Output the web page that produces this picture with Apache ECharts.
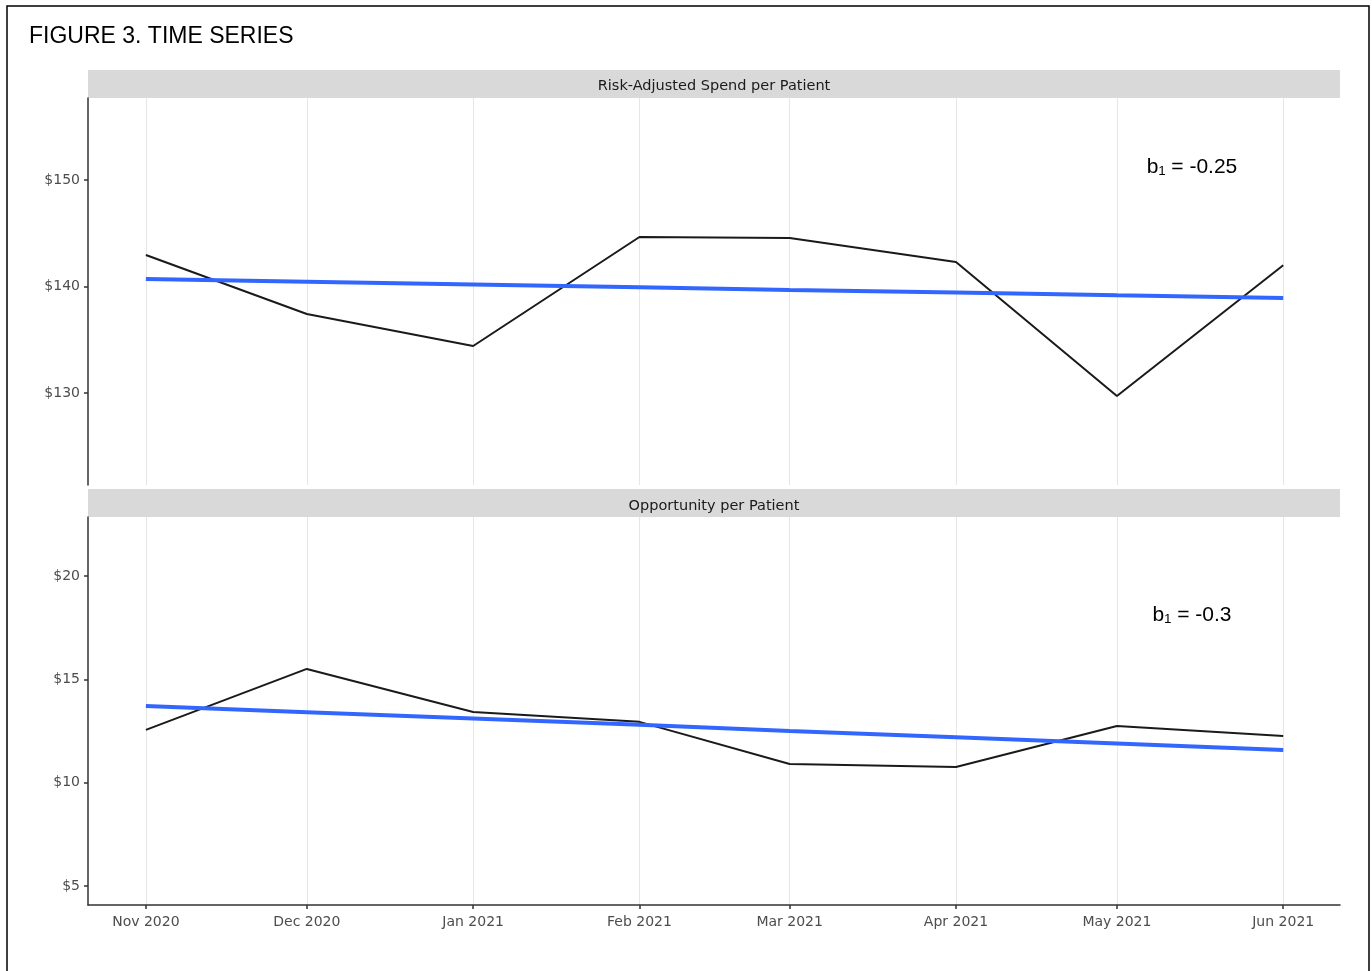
<!DOCTYPE html>
<html>
<head>
<meta charset="utf-8">
<title>Figure 3. Time Series</title>
<script src="https://cdn.jsdelivr.net/npm/echarts@6/dist/echarts.min.js"></script>
<style>
  html, body { margin: 0; padding: 0; background: #fff; }
  #chart { width: 1372px; height: 971px; }
</style>
</head>
<body>
<div id="chart"></div>
<script>
  // data
  var monthLabels = ['Nov 2020', 'Dec 2020', 'Jan 2021', 'Feb 2021', 'Mar 2021', 'Apr 2021', 'May 2021', 'Jun 2021']
  var monthDates = [[2020, 10], [2020, 11], [2021, 0], [2021, 1], [2021, 2], [2021, 3], [2021, 4], [2021, 5]]
  var spendActual = [142.96, 137.42, 134.41, 144.65, 144.55, 142.30, 129.72, 142.00]
  var spendTrend = [140.70, 140.45, 140.19, 139.94, 139.68, 139.43, 139.17, 138.92]
  var oppActual = [12.55, 15.50, 13.42, 12.94, 10.90, 10.76, 12.74, 12.26]
  var oppTrend = [13.71, 13.41, 13.10, 12.80, 12.50, 12.19, 11.89, 11.58]
  var spendTicks = [130, 140, 150]
  var oppTicks = [5, 10, 15, 20]
  var spendSlope = 'b₁ = -0.25'
  var oppSlope = 'b₁ = -0.3'

  // dates as UTC timestamps on a numeric axis, so months keep their real spacing
  var times = monthDates.map(function (d) { return Date.UTC(d[0], d[1], 1) })
  var xMin = Date.UTC(2020, 9, 21, 5)
  var xMax = Date.UTC(2021, 5, 11, 14)

  function pairs (vals) {
    return vals.map(function (v, i) { return [times[i], v] })
  }
  function monthFmt (v) {
    var i = times.indexOf(v)
    return i >= 0 ? monthLabels[i] : ''
  }

  var axisFont = 'DejaVu Sans'
  var axisColor = '#333'
  var labelColor = '#4d4d4d'
  var gridColor = '#e6e6e6'

  function xAxisFor (gridIndex, showLabels) {
    return {
      type: 'value',
      gridIndex: gridIndex,
      min: xMin,
      max: xMax,
      axisLine: { show: showLabels, onZero: false, lineStyle: { color: axisColor, width: 1.5 } },
      axisTick: { show: showLabels, customValues: times, length: 4, lineStyle: { color: axisColor, width: 1.5 } },
      axisLabel: {
        show: showLabels,
        customValues: times,
        formatter: monthFmt,
        color: labelColor,
        fontFamily: axisFont,
        fontSize: 14,
        margin: 10
      },
      splitLine: { show: true, lineStyle: { color: gridColor, width: 1 } }
    }
  }

  function yAxisFor (gridIndex, min, max, ticks) {
    return {
      type: 'value',
      gridIndex: gridIndex,
      min: min,
      max: max,
      axisLine: { show: true, lineStyle: { color: axisColor, width: 1.5 } },
      axisTick: { show: true, customValues: ticks, length: 4, lineStyle: { color: axisColor, width: 1.5 } },
      axisLabel: {
        customValues: ticks,
        formatter: '${value}',
        color: labelColor,
        fontFamily: axisFont,
        fontSize: 14,
        margin: 8
      },
      splitLine: { show: false }
    }
  }

  function lineSeries (idx, vals, color, width, z) {
    return {
      type: 'line',
      xAxisIndex: idx,
      yAxisIndex: idx,
      data: pairs(vals),
      showSymbol: false,
      symbol: 'none',
      silent: true,
      z: z,
      lineStyle: { color: color, width: width }
    }
  }

  var stripStyle = { fill: '#d9d9d9' }
  var stripText = { fill: '#1a1a1a', font: '14.5px "DejaVu Sans"', textAlign: 'center', textVerticalAlign: 'middle' }
  var noteText = { fill: '#000', font: '21px "Liberation Sans"', textAlign: 'center', textVerticalAlign: 'middle' }

  var option = {
    animation: false,
    backgroundColor: '#fff',
    grid: [
      { left: 88, right: 32, top: 98, height: 387 },
      { left: 88, right: 32, top: 517, height: 388 }
    ],
    xAxis: [xAxisFor(0, false), xAxisFor(1, true)],
    yAxis: [
      yAxisFor(0, 121.36, 157.7, spendTicks),
      yAxisFor(1, 4.08, 22.85, oppTicks)
    ],
    series: [
      lineSeries(0, spendActual, '#1a1a1a', 2, 3),
      lineSeries(0, spendTrend, '#3366ff', 4, 4),
      lineSeries(1, oppActual, '#1a1a1a', 2, 3),
      lineSeries(1, oppTrend, '#3366ff', 4, 4)
    ],
    graphic: [
      // outer frame
      { type: 'rect', shape: { x: 7, y: 6, width: 1362, height: 1000 }, style: { fill: 'none', stroke: '#000', lineWidth: 1.5 }, z: 100 },
      { type: 'text', x: 29, y: 37, style: { text: 'FIGURE 3. TIME SERIES', fill: '#000', font: '23px "Liberation Sans"', textVerticalAlign: 'middle' } },
      // facet strips
      { type: 'rect', shape: { x: 88, y: 70, width: 1252, height: 28 }, style: stripStyle },
      { type: 'text', x: 714, y: 86, style: Object.assign({ text: 'Risk-Adjusted Spend per Patient' }, stripText) },
      { type: 'rect', shape: { x: 88, y: 489, width: 1252, height: 28 }, style: stripStyle },
      { type: 'text', x: 714, y: 506, style: Object.assign({ text: 'Opportunity per Patient' }, stripText) },
      // slope notes
      { type: 'text', x: 1192, y: 167, style: Object.assign({ text: spendSlope }, noteText) },
      { type: 'text', x: 1192, y: 615, style: Object.assign({ text: oppSlope }, noteText) }
    ]
  }

  var chart = echarts.init(document.getElementById('chart'))
  chart.setOption(option)
</script>
</body>
</html>
